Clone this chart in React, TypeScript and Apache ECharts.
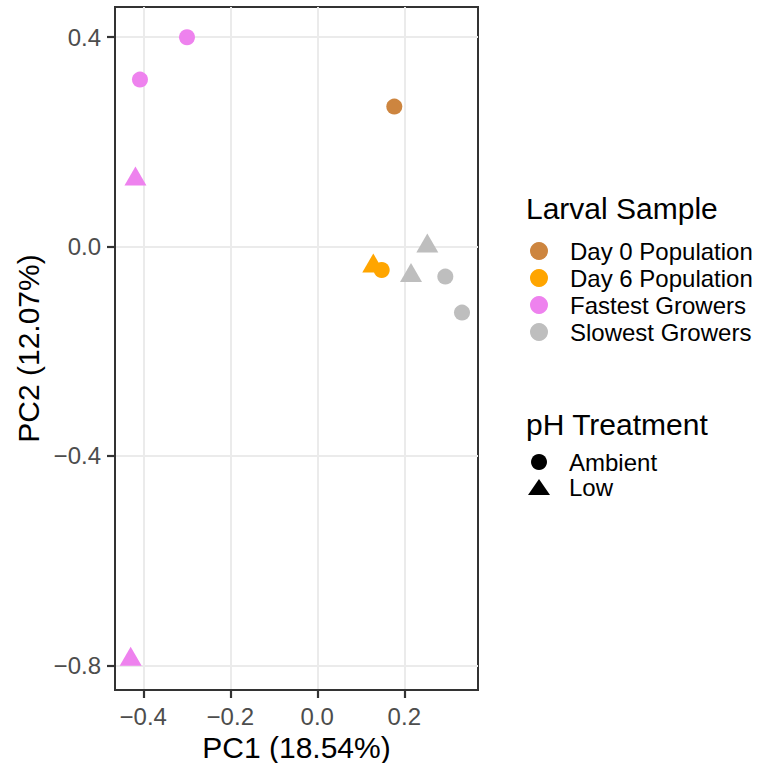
import React, { useEffect, useRef } from "react";
import * as echarts from "echarts";

// ---- data ----
const groups = ["Day 0 Population", "Day 6 Population", "Fastest Growers", "Slowest Growers"];
const groupColors = ["#CD853F", "#FFA500", "#EE82EE", "#BEBEBE"];
const phLevels = ["Ambient", "Low"];

// [PC1, PC2, pH]
const day0Points: [number, number, string][] = [[0.177, 0.2675, "Ambient"]];
const day6Points: [number, number, string][] = [
  [0.1287, -0.0313, "Low"],
  [0.148, -0.0447, "Ambient"],
];
const fastestPoints: [number, number, string][] = [
  [-0.2995, 0.4, "Ambient"],
  [-0.4076, 0.319, "Ambient"],
  [-0.418, 0.135, "Low"],
  [-0.429, -0.7823, "Low"],
];
const slowestPoints: [number, number, string][] = [
  [0.2529, 0.0069, "Low"],
  [0.2154, -0.0497, "Low"],
  [0.2943, -0.0573, "Ambient"],
  [0.3326, -0.1261, "Ambient"],
];
const groupPoints = [day0Points, day6Points, fastestPoints, slowestPoints];

const xTicks = [-0.4, -0.2, 0.0, 0.2];
const yTicks = [-0.8, -0.4, 0.0, 0.4];
const xTitle = "PC1 (18.54%)";
const yTitle = "PC2 (12.07%)";

const FONT = "'Liberation Sans', Arial, Helvetica, sans-serif";

const fmt = (v: number) => (v < 0 ? "\u2212" : "") + Math.abs(v).toFixed(1);

export default function App() {
  const ref = useRef<HTMLDivElement>(null);
  useEffect(() => {
    if (!ref.current) return;
    const chart = echarts.init(ref.current, null, { renderer: "svg" });

    const symbolFor = (v: any) => (v[2] === "Low" ? "triangle" : "circle");
    const sizeFor = (v: any) => (v[2] === "Low" ? [22, 19] : 16);

    const series: any[] = groups.map((g, i) => ({
      name: g,
      type: "scatter",
      data: groupPoints[i],
      symbol: symbolFor,
      symbolSize: sizeFor,
      itemStyle: { color: groupColors[i], opacity: 1 },
      z: 3,
    }));
    phLevels.forEach((p) => {
      series.push({
        name: p,
        type: "scatter",
        data: [],
        symbol: p === "Low" ? "triangle" : "circle",
        itemStyle: { color: "#000", opacity: 1 },
      });
    });

    const axisCommon = {
      type: "value",
      axisLine: { show: true, onZero: false, lineStyle: { color: "#333", width: 2 } },
      axisTick: { show: true, inside: false, length: 8, lineStyle: { color: "#333", width: 2.2 } },
      splitLine: { show: true, lineStyle: { color: "#EBEBEB", width: 2 } },
      nameLocation: "middle",
      nameTextStyle: { fontSize: 30, color: "#000", fontFamily: FONT },
    };

    chart.setOption({
      animation: false,
      textStyle: { fontFamily: FONT },
      grid: {
        left: 115,
        right: 285,
        top: 7,
        bottom: 73,
        show: true,
        containLabel: false,
        outerBoundsMode: "none",
        borderColor: "#333",
        borderWidth: 2,
        backgroundColor: "#fff",
      },
      title: [
        {
          text: "Larval Sample",
          left: 526,
          top: 193,
          padding: 0,
          textStyle: { fontSize: 30, fontWeight: "normal", color: "#000", fontFamily: FONT, lineHeight: 30 },
        },
        {
          text: "pH Treatment",
          left: 526,
          top: 409,
          padding: 0,
          textStyle: { fontSize: 30, fontWeight: "normal", color: "#000", fontFamily: FONT, lineHeight: 30 },
        },
      ],
      legend: [
        {
          orient: "vertical",
          left: 530,
          top: 239,
          padding: 0,
          itemWidth: 18,
          itemHeight: 18,
          itemGap: 3,
          selectedMode: false,
          data: groups.map((g) => ({ name: g, icon: "circle" })),
          textStyle: { fontSize: 24, color: "#000", padding: [0, 0, 0, 17], fontFamily: FONT },
        },
        {
          orient: "vertical",
          left: 528,
          top: 450,
          padding: 0,
          itemWidth: 22,
          itemHeight: 16,
          itemGap: 1,
          selectedMode: false,
          data: phLevels.map((p) => ({
            name: p,
            icon: p === "Low" ? "triangle" : "circle",
            itemStyle: { color: "#000", opacity: 1 },
          })),
          textStyle: { fontSize: 24, color: "#000", padding: [0, 0, 0, 14], fontFamily: FONT },
        },
      ],
      xAxis: {
        ...axisCommon,
        min: -0.465,
        max: 0.3694,
        axisTick: { ...axisCommon.axisTick, customValues: xTicks },
        axisLabel: { customValues: xTicks, fontSize: 24, color: "#4D4D4D", margin: 14, formatter: fmt, fontFamily: FONT },
        name: xTitle,
        nameGap: 42,
      },
      yAxis: {
        ...axisCommon,
        min: -0.847,
        max: 0.4577,
        axisTick: { ...axisCommon.axisTick, customValues: yTicks },
        axisLabel: { customValues: yTicks, fontSize: 24, color: "#4D4D4D", margin: 14, formatter: fmt, fontFamily: FONT },
        name: yTitle,
        nameGap: 72,
      },
      series,
    });
    return () => chart.dispose();
  }, []);
  return (
    <div
      ref={ref}
      style={{ position: "fixed", left: 0, top: 0, width: 763, height: 763, background: "#fff" }}
    />
  );
}
